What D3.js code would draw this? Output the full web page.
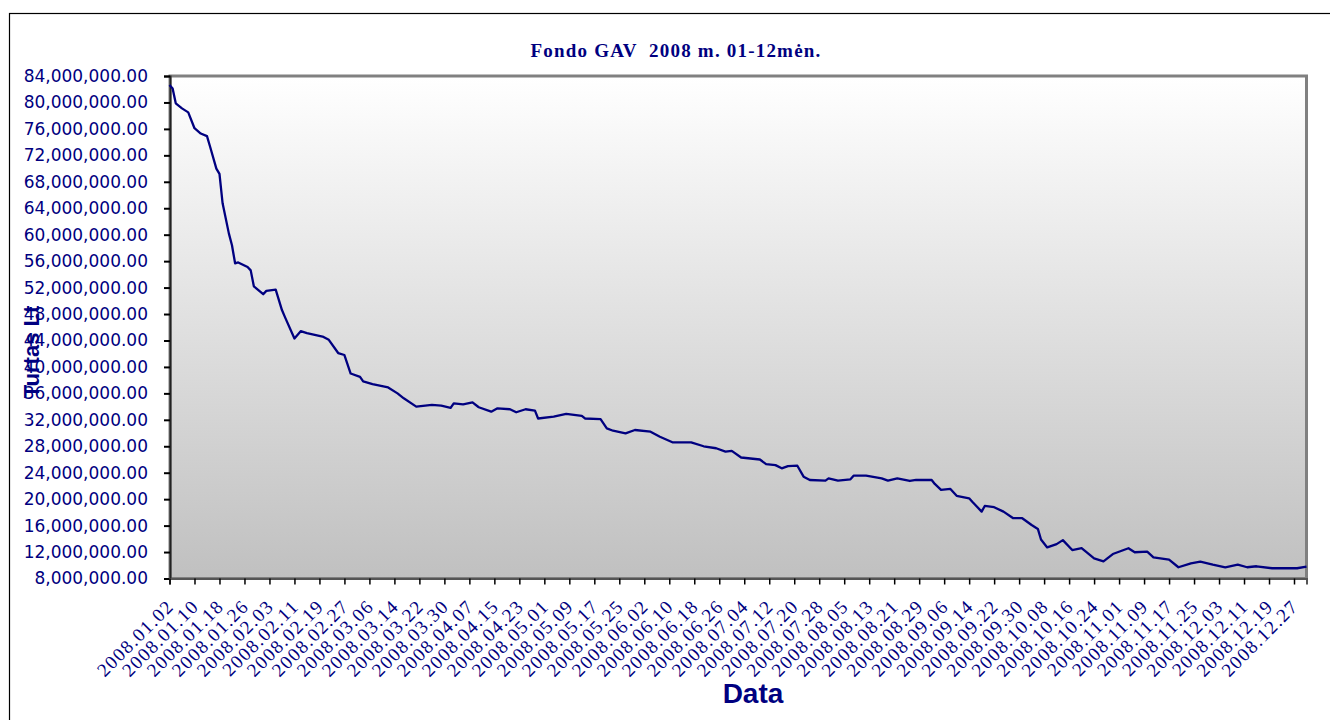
<!DOCTYPE html>
<html>
<head>
<meta charset="utf-8">
<script src="https://cdn.jsdelivr.net/npm/d3@7"></script>
<style>
  body { margin: 0; background: #fff; }
</style>
</head>
<body>
<svg id="chart" width="1330" height="720"></svg>
<script>
// duomenys
const title = "Fondo GAV  2008 m. 01-12mėn.";
const yTitle = "Turtas Lt";
const xTitle = "Data";
const firstDay = "2008-01-02";
const lastDay = "2008-12-31";
const labelStep = 8;
const yTicks = [8e6, 12e6, 16e6, 20e6, 24e6, 28e6, 32e6, 36e6, 40e6, 44e6, 48e6, 52e6, 56e6, 60e6, 64e6, 68e6, 72e6, 76e6, 80e6, 84e6];

const dates = [
  "2008-01-02","2008-01-03","2008-01-04","2008-01-06","2008-01-08","2008-01-10","2008-01-12","2008-01-14","2008-01-15","2008-01-17",
  "2008-01-18","2008-01-19","2008-01-21","2008-01-22","2008-01-23","2008-01-24","2008-01-27","2008-01-28","2008-01-29","2008-02-01",
  "2008-02-02","2008-02-05","2008-02-07","2008-02-08","2008-02-11","2008-02-13","2008-02-15","2008-02-20","2008-02-22","2008-02-25",
  "2008-02-27","2008-02-29","2008-03-03","2008-03-04","2008-03-07","2008-03-12","2008-03-15","2008-03-17","2008-03-21","2008-03-26",
  "2008-03-29","2008-04-01","2008-04-02","2008-04-05","2008-04-08","2008-04-10","2008-04-14","2008-04-16","2008-04-20","2008-04-22",
  "2008-04-25","2008-04-28","2008-04-29","2008-05-04","2008-05-08","2008-05-13","2008-05-14","2008-05-19","2008-05-21","2008-05-23",
  "2008-05-27","2008-05-30","2008-06-04","2008-06-07","2008-06-11","2008-06-17","2008-06-21","2008-06-25","2008-06-28","2008-06-30",
  "2008-07-03","2008-07-09","2008-07-11","2008-07-14","2008-07-16","2008-07-18","2008-07-21","2008-07-23","2008-07-25","2008-07-30",
  "2008-07-31","2008-08-03","2008-08-07","2008-08-08","2008-08-12","2008-08-17","2008-08-19","2008-08-22","2008-08-26","2008-08-28",
  "2008-09-02","2008-09-03","2008-09-05","2008-09-08","2008-09-10","2008-09-14","2008-09-15","2008-09-18","2008-09-19","2008-09-22",
  "2008-09-25","2008-09-28","2008-10-01","2008-10-04","2008-10-06","2008-10-07","2008-10-09","2008-10-12","2008-10-14","2008-10-17",
  "2008-10-20","2008-10-24","2008-10-27","2008-10-30","2008-11-04","2008-11-06","2008-11-10","2008-11-12","2008-11-17","2008-11-20",
  "2008-11-24","2008-11-27","2008-12-01","2008-12-05","2008-12-09","2008-12-12","2008-12-15","2008-12-20","2008-12-28","2008-12-31"
];

const values = [
  82640000,82100000,79870000,79100000,78500000,76100000,75300000,74900000,73300000,70000000,
  69200000,64750000,60200000,58400000,55670000,55800000,55100000,54600000,52200000,51000000,
  51500000,51700000,48600000,47500000,44300000,45400000,45100000,44600000,44100000,42100000,
  41800000,39000000,38500000,37800000,37400000,36900000,36000000,35250000,34000000,34250000,
  34150000,33800000,34500000,34350000,34650000,33900000,33230000,33740000,33600000,33140000,
  33600000,33400000,32200000,32470000,32900000,32600000,32200000,32100000,30700000,30350000,
  29960000,30460000,30200000,29450000,28600000,28600000,28000000,27700000,27200000,27300000,
  26300000,26000000,25300000,25150000,24660000,25000000,25060000,23400000,22900000,22800000,
  23150000,22800000,23000000,23550000,23550000,23150000,22800000,23150000,22750000,22900000,
  22900000,22300000,21400000,21550000,20500000,20130000,19600000,18120000,18970000,18780000,
  18120000,17150000,17120000,16100000,15500000,13900000,12700000,13200000,13800000,12300000,
  12600000,11040000,10600000,11700000,12580000,11970000,12060000,11200000,10850000,9700000,
  10300000,10550000,10100000,9700000,10100000,9700000,9850000,9550000,9550000,9800000
];

const navy = "#000080";
const parseDate = d3.utcParse("%Y-%m-%d");
const labelFormat = d3.utcFormat("%Y.%m.%d");

const svg = d3.select("#chart");
const plotL = 170, plotT = 76, plotR = 1306.5, plotB = 578.5;

// remelis
svg.append("rect")
  .attr("x", 9.5).attr("y", 13.5)
  .attr("width", 1400).attr("height", 800)
  .attr("fill", "#fff").attr("stroke", "#000").attr("stroke-width", 1.2);

const grad = svg.append("defs").append("linearGradient")
  .attr("id", "bg").attr("x1", 0).attr("y1", 0).attr("x2", 0).attr("y2", 1);
grad.append("stop").attr("offset", "0%").attr("stop-color", "#ffffff");
grad.append("stop").attr("offset", "100%").attr("stop-color", "#c0c0c0");

svg.append("rect")
  .attr("x", plotL).attr("y", plotT)
  .attr("width", plotR - plotL).attr("height", plotB - plotT)
  .attr("fill", "url(#bg)")
  .attr("stroke", "#808080").attr("stroke-width", 3);

const start = parseDate(firstDay), end = parseDate(lastDay);
const x = d3.scaleUtc().domain([start, end]).range([plotL - 0.5, plotR]);
const y = d3.scaleLinear().domain([8e6, 84e6]).range([plotB, plotT]);

const labelDays = d3.range(0, d3.utcDay.count(start, end) + 1, labelStep)
  .map(function (n) { return d3.utcDay.offset(start, n); });

// y asis
const gy = svg.append("g")
  .attr("transform", "translate(" + plotL + ",0)")
  .call(d3.axisLeft(y).tickValues(yTicks).tickFormat(d3.format(",.2f")).tickSize(6).tickPadding(16));
gy.select(".domain").attr("stroke", "#222").attr("stroke-width", 2);
gy.selectAll(".tick line").attr("stroke", "#000").attr("stroke-width", 2);
gy.selectAll(".tick text")
  .attr("fill", navy)
  .attr("font-family", "DejaVu Sans")
  .attr("font-size", 17);

// x asis
const gx = svg.append("g")
  .attr("transform", "translate(0," + plotB + ")")
  .call(d3.axisBottom(x).tickValues(labelDays).tickFormat(labelFormat).tickSize(6));
gx.select(".domain").attr("stroke", "#555").attr("stroke-width", 2);
gx.selectAll(".tick line").attr("stroke", "#000").attr("stroke-width", 1.5);
gx.selectAll(".tick text")
  .attr("fill", navy)
  .attr("font-family", "Liberation Serif")
  .attr("font-size", 19)
  .attr("letter-spacing", 1.4)
  .attr("text-anchor", "end")
  .attr("y", 0).attr("dy", 0)
  .attr("transform", "translate(5,29) rotate(-45)");

// linija
const line = d3.line()
  .x(function (d, i) { return x(parseDate(dates[i])); })
  .y(function (d) { return y(d); });

svg.append("path")
  .datum(values)
  .attr("fill", "none")
  .attr("stroke", navy)
  .attr("stroke-width", 2.3)
  .attr("stroke-linejoin", "round")
  .attr("d", line);

// pavadinimai
svg.append("text")
  .attr("x", 676).attr("y", 57)
  .attr("text-anchor", "middle")
  .attr("fill", navy)
  .attr("font-family", "Liberation Serif")
  .attr("font-weight", "bold")
  .attr("font-size", 19)
  .attr("letter-spacing", 1.2)
  .style("white-space", "pre")
  .text(title);

svg.append("text")
  .attr("x", 753).attr("y", 703)
  .attr("text-anchor", "middle")
  .attr("fill", navy)
  .attr("font-family", "Liberation Sans")
  .attr("font-weight", "bold")
  .attr("font-size", 28)
  .text(xTitle);

svg.append("text")
  .attr("transform", "translate(39,352) rotate(-90)")
  .attr("text-anchor", "middle")
  .attr("fill", navy)
  .attr("font-family", "Liberation Sans")
  .attr("font-weight", "bold")
  .attr("font-size", 22)
  .text(yTitle);
</script>
</body>
</html>
